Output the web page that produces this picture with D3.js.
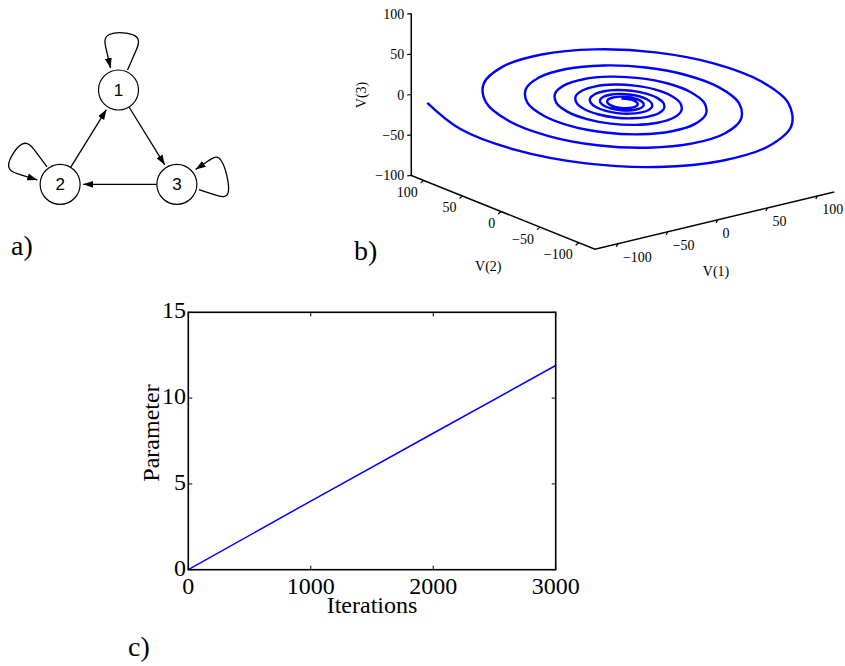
<!DOCTYPE html>
<html><head><meta charset="utf-8">
<script src="https://cdn.jsdelivr.net/npm/d3@7"></script>
<style>
html,body{margin:0;padding:0;background:#fff;}
svg{display:block;}
text{font-family:"Liberation Serif","Times New Roman",serif;fill:#000;}
</style></head><body>
<svg id="chart" width="845" height="666"></svg>
<script>
// ---------- Panel a: network ----------
const nodes = ["1", "2", "3"];
const links = [["2", "1"], ["1", "3"], ["3", "2"]];
const selfLoops = ["1", "2", "3"];

// ---------- Panel b: trajectory in (V(1), V(2), V(3)) ----------
const v1 = [-107.8,-79.5,-40.6,2.6,43.6,76.3,96.1,100.8,
  90.2,66.5,34.0,-2.2,-36.5,-63.8,-80.4,-84.3,
  -75.4,-55.7,-28.5,1.8,30.5,53.4,67.3,70.5,
  63.1,46.6,23.8,-1.5,-25.5,-44.7,-56.3,-59.0,
  -52.8,-39.0,-19.9,1.3,21.4,37.4,47.1,49.4,
  44.2,32.6,16.7,-1.1,-17.9,-31.3,-39.4,-41.3,
  -37.0,-27.3,-13.9,0.9,15.0,26.2,33.0,34.6,
  30.9,22.8,11.7,-0.8,-12.5,-21.9,-27.6,-28.9,
  -25.9,-19.1,-9.8,0.6,10.5,18.3,23.1,24.2,
  21.7,16.0,8.2,-0.5,-8.8,-15.3,-19.3,-20.3,
  -18.1,-13.4,-6.8,0.4,7.3,12.8,16.2,16.9,
  15.2,11.2,5.7,-0.4,-6.1,-10.7,-13.5,-14.2,
  -12.7,-9.4,-4.8,0.3,5.1,9.0,11.3,11.9,
  10.6,7.8,4.0,-0.3,-4.3,-7.5,-9.5,-9.9,
  -8.9,-6.5,-3.4,0.2,3.6,6.3,7.9,8.3,
  7.4,5.5,2.8,-0.2,-3.0];
const v2 = [114.9,108.6,86.3,52.2,11.7,-28.7,-63.1,-86.6,
  -96.1,-90.8,-72.2,-43.7,-9.8,24.0,52.8,72.4,
  80.4,76.0,60.4,36.5,8.2,-20.1,-44.2,-60.6,
  -67.3,-63.6,-50.6,-30.6,-6.9,16.8,37.0,50.7,
  56.3,53.2,42.3,25.6,5.7,-14.1,-30.9,-42.4,
  -47.1,-44.5,-35.4,-21.4,-4.8,11.8,25.9,35.5,
  39.4,37.3,29.6,17.9,4.0,-9.9,-21.7,-29.7,
  -33.0,-31.2,-24.8,-15.0,-3.4,8.2,18.1,24.9,
  27.6,26.1,20.7,12.5,2.8,-6.9,-15.2,-20.8,
  -23.1,-21.8,-17.3,-10.5,-2.4,5.8,12.7,17.4,
  19.3,18.3,14.5,8.8,2.0,-4.8,-10.6,-14.6,
  -16.2,-15.3,-12.1,-7.3,-1.6,4.0,8.9,12.2,
  13.5,12.8,10.2,6.1,1.4,-3.4,-7.4,-10.2,
  -11.3,-10.7,-8.5,-5.1,-1.2,2.8,6.2,8.5,
  9.5,8.9,7.1,4.3,1.0,-2.4,-5.2,-7.1,
  -7.9,-7.5,-6.0,-3.6,-0.8];
const v3 = [-14.4,-52.7,-81.7,-97.6,-98.5,-84.9,-59.6,-26.7,
  8.4,40.4,64.7,78.0,78.7,67.4,46.2,18.7,
  -10.7,-37.5,-57.8,-68.9,-69.5,-60.1,-42.3,-19.3,
  5.3,27.7,44.7,54.0,54.5,46.6,31.7,12.5,
  -8.1,-26.8,-41.1,-48.8,-49.3,-42.6,-30.2,-14.1,
  3.1,18.8,30.7,37.2,37.6,32.0,21.6,8.1,
  -6.3,-19.4,-29.3,-34.8,-35.1,-30.4,-21.8,-10.5,
  1.6,12.5,20.9,25.4,25.7,21.8,14.5,5.1,
  -5.0,-14.2,-21.1,-25.0,-25.2,-21.9,-15.8,-7.9,
  0.5,8.2,14.0,17.2,17.4,14.7,9.6,3.0,
  -4.1,-10.5,-15.4,-18.1,-18.2,-15.9,-11.7,-6.2,
  -0.3,5.1,9.2,11.4,11.6,9.7,6.1,1.5,
  -3.5,-8.0,-11.4,-13.2,-13.4,-11.8,-8.8,-4.9,
  -0.8,3.0,5.8,7.4,7.5,6.2,3.7,0.4,
  -3.0,-6.2,-8.6,-9.9,-10.0,-8.8,-6.7,-4.0,
  -1.1,1.5,3.5,4.6,4.7];
const v1Lim = [-123, 117];
const v2Lim = [-121, 116];
const v3Lim = [-100, 100];
const v1Ticks = [-100, -50, 0, 50, 100];
const v2Ticks = [-100, -50, 0, 50, 100];
const v3Ticks = [-100, -50, 0, 50, 100];

// ---------- Panel c: parameter vs iterations ----------
const iterations = [0, 1000, 2000, 3000];
const parameter = [0, 4.0, 7.95, 11.9];
const xTicks = [0, 1000, 2000, 3000];
const yTicks = [0, 5, 10, 15];

const svg = d3.select("#chart");
svg.append("rect").attr("width", 845).attr("height", 666).attr("fill", "#fff");

// ===== Panel a =====
const defs = svg.append("defs");
defs.append("marker").attr("id", "arrow")
  .attr("viewBox", "0 -4 10 8").attr("refX", 10).attr("refY", 0)
  .attr("markerWidth", 10).attr("markerHeight", 8)
  .attr("markerUnits", "userSpaceOnUse").attr("orient", "auto")
  .append("path").attr("d", "M0,-3.5L10,0L0,3.5Z").attr("fill", "#000");

const R = 20;
const gx = d3.scaleLinear().domain([-1, 1]).range([51.1, 185.9]);
const gy = d3.scaleLinear().domain([-1, 1]).range([215.8, 90]);
const nodeAngle = d3.scaleOrdinal().domain(nodes).range([90, 210, 330]);
const loopAngle = d3.scaleOrdinal().domain(nodes).range([-90, -150, -15]);
const loopReach = d3.scaleOrdinal().domain(nodes).range([1.0, 0.97, 0.82]);
const loopSpread = d3.scaleOrdinal().domain(nodes).range([1.0, 0.95, 1.2]);
const rad = Math.PI / 180;
function pos(n) {
  const a = nodeAngle(n) * rad;
  return [gx(Math.cos(a)), gy(Math.sin(a))];
}
const ga = svg.append("g");
links.forEach(([s, t]) => {
  const p = pos(s), q = pos(t);
  const dx = q[0] - p[0], dy = q[1] - p[1], L = Math.hypot(dx, dy);
  const ux = dx / L, uy = dy / L;
  ga.append("line")
    .attr("x1", p[0] + ux * R).attr("y1", p[1] + uy * R)
    .attr("x2", q[0] - ux * (R + 3)).attr("y2", q[1] - uy * (R + 3))
    .attr("stroke", "#000").attr("stroke-width", 1.3)
    .attr("marker-end", "url(#arrow)");
});
const loopTemplate = [[20, 9], [38, 17], [57, 25], [59, -17], [40, -12], [22, -8]];
const loopLine = d3.line().curve(d3.curveBasis);
selfLoops.forEach(n => {
  const c = pos(n), th = loopAngle(n) * rad;
  const o = [Math.cos(th), Math.sin(th)], l = [Math.cos(th + Math.PI / 2), Math.sin(th + Math.PI / 2)];
  const kr = loopReach(n), ks = loopSpread(n);
  const pts = loopTemplate.map(([u, w], i) => {
    const uu = (i === 0 || i === loopTemplate.length - 1) ? u : R + (u - R) * kr;
    const ww = w * ks;
    return [c[0] + uu * o[0] + ww * l[0], c[1] + uu * o[1] + ww * l[1]];
  });
  ga.append("path").attr("d", loopLine(pts)).attr("fill", "none")
    .attr("stroke", "#000").attr("stroke-width", 1.3).attr("marker-end", "url(#arrow)");
});
nodes.forEach(n => {
  const c = pos(n);
  ga.append("circle").attr("cx", c[0]).attr("cy", c[1]).attr("r", R)
    .attr("fill", "#fff").attr("stroke", "#000").attr("stroke-width", 1.2);
  ga.append("text").attr("x", c[0]).attr("y", c[1] + 6).attr("text-anchor", "middle")
    .style("font-family", "'Liberation Sans', Arial, sans-serif").style("font-size", "17px").text(n);
});

// ===== Panel b =====
const O = [623.8, 101.3];
const s1 = d3.scaleLinear().domain([-100, 100]).range([[-99.7, 23.85], [99.7, -23.85]]);
const s2 = d3.scaleLinear().domain([-100, 100]).range([[77.5, 31.15], [-77.5, -31.15]]);
const s3 = d3.scaleLinear().domain([-100, 100]).range([[0, 80.9], [0, -80.9]]);
function proj(a, b, c) {
  const p = s1(a), q = s2(b), r = s3(c);
  return [O[0] + p[0] + q[0] + r[0], O[1] + p[1] + q[1] + r[1]];
}
const gb = svg.append("g");
const axisPts = [
  [v1Lim[0], v2Lim[1], v3Lim[1]],
  [v1Lim[0], v2Lim[1], v3Lim[0]],
  [v1Lim[0], v2Lim[0], v3Lim[0]],
  [v1Lim[1], v2Lim[0], v3Lim[0]]
].map(d => proj(...d));
gb.append("path").attr("d", d3.line()(axisPts)).attr("fill", "none")
  .attr("stroke", "#000").attr("stroke-width", 1.5);

const pts = v1.map((a, i) => proj(a, v2[i], v3[i]));
gb.append("path").attr("d", d3.line().curve(d3.curveCatmullRom.alpha(0.5))(pts))
  .attr("fill", "none").attr("stroke", "#0000ff").attr("stroke-width", 2.4)
  .attr("stroke-linejoin", "round");

const fs = "14px";
const fmt = t => (t < 0 ? "\u2212" + (-t) : String(t));
v3Ticks.forEach(t => {
  const T = proj(v1Lim[0], v2Lim[1], t);
  gb.append("line").attr("x1", T[0]).attr("y1", T[1]).attr("x2", T[0] - 4).attr("y2", T[1] + 0.5)
    .attr("stroke", "#000").attr("stroke-width", 1.2);
  gb.append("text").attr("x", T[0] - 7).attr("y", T[1] + 5).attr("text-anchor", "end")
    .style("font-size", fs).text(fmt(t));
});
v2Ticks.forEach(t => {
  const T = proj(v1Lim[0], t, v3Lim[0]);
  gb.append("line").attr("x1", T[0]).attr("y1", T[1]).attr("x2", T[0] - 3).attr("y2", T[1] + 2.5)
    .attr("stroke", "#000").attr("stroke-width", 1.2);
  gb.append("text").attr("x", T[0] - 6).attr("y", T[1] + 16.5).attr("text-anchor", "end")
    .style("font-size", fs).text(fmt(t));
});
v1Ticks.forEach(t => {
  const T = proj(t, v2Lim[0], v3Lim[0]);
  gb.append("line").attr("x1", T[0]).attr("y1", T[1]).attr("x2", T[0] - 1.5).attr("y2", T[1] + 3)
    .attr("stroke", "#000").attr("stroke-width", 1.2);
  gb.append("text").attr("x", T[0] + 5).attr("y", T[1] + 18).attr("text-anchor", "start")
    .style("font-size", fs).text(fmt(t));
});
gb.append("text").attr("transform", "translate(366,95) rotate(-90)").attr("text-anchor", "middle")
  .style("font-size", fs).text("V(3)");
gb.append("text").attr("x", 488.3).attr("y", 271).attr("text-anchor", "middle")
  .style("font-size", fs).text("V(2)");
gb.append("text").attr("x", 716).attr("y", 276).attr("text-anchor", "middle")
  .style("font-size", fs).text("V(1)");

// ===== Panel c =====
const gc = svg.append("g");
const x = d3.scaleLinear().domain([0, 3000]).range([188.3, 555.7]);
const y = d3.scaleLinear().domain([0, 15]).range([569.7, 312.3]);
gc.append("path").datum(iterations.map((it, i) => [it, parameter[i]]))
  .attr("d", d3.line().x(d => x(d[0])).y(d => y(d[1])))
  .attr("fill", "none").attr("stroke", "#0000ff").attr("stroke-width", 1.5);
gc.append("rect").attr("x", x(0)).attr("y", y(15)).attr("width", x(3000) - x(0)).attr("height", y(0) - y(15))
  .attr("fill", "none").attr("stroke", "#000").attr("stroke-width", 1.6);
xTicks.forEach(t => {
  gc.append("line").attr("x1", x(t)).attr("x2", x(t)).attr("y1", y(0)).attr("y2", y(0) - 4).attr("stroke", "#000").attr("stroke-width", 1);
  gc.append("line").attr("x1", x(t)).attr("x2", x(t)).attr("y1", y(15)).attr("y2", y(15) + 4).attr("stroke", "#000").attr("stroke-width", 1);
  gc.append("text").attr("x", x(t)).attr("y", 594).attr("text-anchor", "middle").style("font-size", "24px").text(t);
});
yTicks.forEach(t => {
  gc.append("line").attr("x1", x(0)).attr("x2", x(0) + 4).attr("y1", y(t)).attr("y2", y(t)).attr("stroke", "#000").attr("stroke-width", 1);
  gc.append("line").attr("x1", x(3000)).attr("x2", x(3000) - 4).attr("y1", y(t)).attr("y2", y(t)).attr("stroke", "#000").attr("stroke-width", 1);
  gc.append("text").attr("x", 186).attr("y", y(t) + 6).attr("text-anchor", "end").style("font-size", "24px").text(t);
});
gc.append("text").attr("x", 372).attr("y", 613).attr("text-anchor", "middle").style("font-size", "24px").text("Iterations");
gc.append("text").attr("transform", "translate(158.5,433) rotate(-90)").attr("text-anchor", "middle")
  .style("font-size", "24px").text("Parameter");

// ===== Panel labels =====
svg.append("text").attr("x", 11).attr("y", 255).style("font-size", "28px").text("a)");
svg.append("text").attr("x", 354).attr("y", 260).style("font-size", "28px").text("b)");
svg.append("text").attr("x", 128).attr("y", 656).style("font-size", "28px").text("c)");
</script>
</body></html>
